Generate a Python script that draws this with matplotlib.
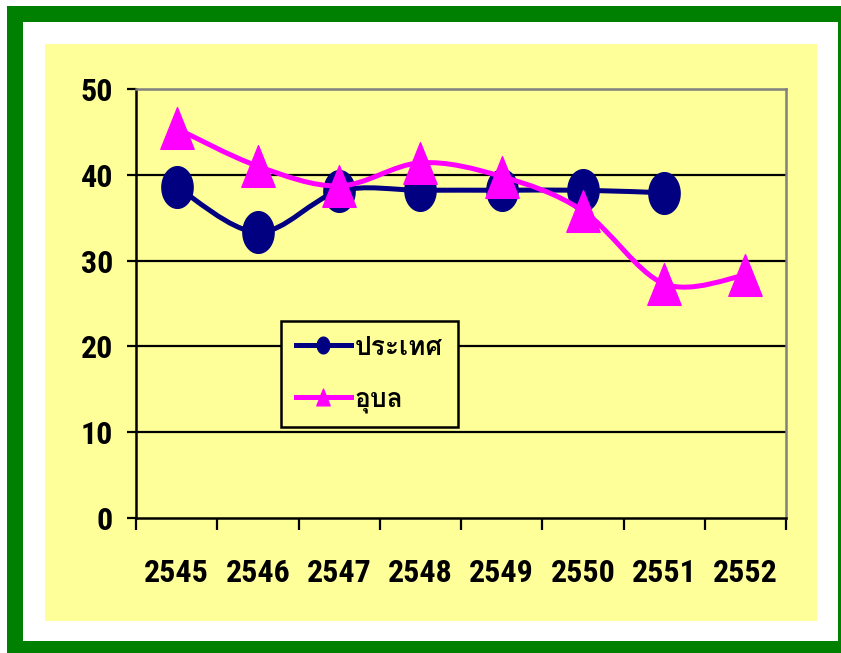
import matplotlib
matplotlib.use("Agg")
import matplotlib.pyplot as plt
from matplotlib import font_manager as fm
from matplotlib.path import Path
from matplotlib.patches import Rectangle, PathPatch
from matplotlib.lines import Line2D
import numpy as np

# ---- data ----
years = ["2545", "2546", "2547", "2548", "2549", "2550", "2551", "2552"]
country = [38.6, 33.3, 38.1, 38.2, 38.2, 38.2, 37.9]          # ประเทศ
ubon = [45.4, 41.0, 38.7, 41.4, 39.8, 35.8, 27.3, 28.3]        # อุบล
yticks = [0, 10, 20, 30, 40, 50]
series_names = ["ประเทศ", "อุบล"]

NAVY = "#000080"
MAGENTA = "#FF00FF"
YELLOW = "#FFFF99"
GREEN = "#008000"


def pick_bold_font(cands):
    """First family in the list that ships a real bold face."""
    for c in cands:
        for f in fm.fontManager.ttflist:
            if f.name == c and isinstance(f.weight, int) and f.weight >= 700 and f.style == "normal":
                return c
            if f.name == c and f.weight in ("bold", "heavy", "black") and f.style == "normal":
                return c
    return "DejaVu Sans"


num_font = pick_bold_font(["Liberation Sans Narrow", "Arial Narrow", "Roboto Condensed",
                           "Archivo Narrow", "PT Sans Narrow", "Liberation Sans"])
thai_font = pick_bold_font(["Loma", "Sarabun", "FreeSerif"])


def smooth_path(xs, ys):
    """Cubic Bezier path through the points (Catmull-Rom style, 1/6 tension)."""
    pts = np.column_stack([xs, ys]).astype(float)
    n = len(pts)
    verts = [pts[0]]
    codes = [Path.MOVETO]
    for i in range(n - 1):
        p0 = pts[i - 1] if i > 0 else pts[i]
        p1 = pts[i]
        p2 = pts[i + 1]
        p3 = pts[i + 2] if i + 2 < n else pts[i + 1]
        c1 = p1 + (p2 - p0) / 6.0
        c2 = p2 - (p3 - p1) / 6.0
        verts += [c1, c2, p2]
        codes += [Path.CURVE4] * 3
    return Path(verts, codes)


# custom markers: tall ellipse and triangle
t = np.linspace(0, 2 * np.pi, 60)
ellipse_marker = Path(np.column_stack([0.75 * np.cos(t), np.sin(t)]), closed=True)
tri_marker = Path([(-0.8, -1.0), (0.8, -1.0), (0.0, 1.0), (-0.8, -1.0)], closed=True)

fig = plt.figure(figsize=(8.41, 6.53), dpi=100)
fig.patch.set_facecolor("white")
W, H = 841.0, 653.0


def frect(x0, y0, x1, y1, color):
    fig.patches.append(Rectangle((x0 / W, 1 - y1 / H), (x1 - x0) / W, (y1 - y0) / H,
                                 transform=fig.transFigure, facecolor=color,
                                 edgecolor="none", zorder=-10))


frect(7, 6, 900, 700, GREEN)
frect(23, 22, 838, 641, "white")
frect(45, 44, 817, 621, YELLOW)

ax = fig.add_axes([136 / W, 1 - 518 / H, (786 - 136) / W, (518 - 89) / H])
ax.set_facecolor(YELLOW)

x = np.arange(len(years))
xc = x[:len(country)]

ax.add_patch(PathPatch(smooth_path(xc, country), facecolor="none", edgecolor=NAVY,
                       lw=3.6, zorder=3, capstyle="round", joinstyle="round"))
ax.plot(xc, country, linestyle="none", marker=ellipse_marker, ms=30,
        color=NAVY, mec=NAVY, zorder=4)

ax.add_patch(PathPatch(smooth_path(x, ubon), facecolor="none", edgecolor=MAGENTA,
                       lw=3.6, zorder=5, capstyle="round", joinstyle="round"))
ax.plot(x, ubon, linestyle="none", marker=tri_marker, ms=30,
        color=MAGENTA, mec=MAGENTA, zorder=6)

ax.set_xlim(-0.5, len(years) - 0.5)
ax.set_ylim(0, 50)

tick_font = fm.FontProperties(family=num_font, weight="bold", size=23)

ax.set_yticks(yticks)
ax.set_yticklabels([str(v) for v in yticks], fontproperties=tick_font)
ax.tick_params(axis="y", length=6.5, width=1.6, pad=10, color="black")

ax.set_xticks(np.arange(-0.5, len(years), 1.0))
ax.set_xticklabels([])
ax.tick_params(axis="x", which="major", length=8.5, width=1.6, color="black")
ax.set_xticks(x, minor=True)
ax.set_xticklabels(years, minor=True, fontproperties=tick_font)
ax.tick_params(axis="x", which="minor", length=0, pad=29)

for v in yticks[1:-1]:
    ax.axhline(v, color="black", lw=1.6, zorder=1)

for s in ("left", "bottom"):
    ax.spines[s].set_color("black")
    ax.spines[s].set_linewidth(1.8)
for s in ("top", "right"):
    ax.spines[s].set_color("#808080")
    ax.spines[s].set_linewidth(1.8)

handles = [
    Line2D([], [], color=NAVY, lw=3.6, marker=ellipse_marker, ms=12, mec=NAVY),
    Line2D([], [], color=MAGENTA, lw=3.6, marker=tri_marker, ms=12, mec=MAGENTA),
]
leg = ax.legend(handles, series_names, loc="upper left",
                bbox_to_anchor=(281 / W, 1 - 321 / H), bbox_transform=fig.transFigure,
                prop=fm.FontProperties(family=thai_font, weight="bold", size=19),
                frameon=True, fancybox=False, facecolor=YELLOW, edgecolor="black",
                framealpha=1, handlelength=2.1, handletextpad=0.15,
                labelspacing=1.05, borderpad=0.55, borderaxespad=0)
leg.get_frame().set_linewidth(1.8)
leg.set_zorder(10)

fig.savefig("out.png", dpi=100, facecolor=fig.get_facecolor())
